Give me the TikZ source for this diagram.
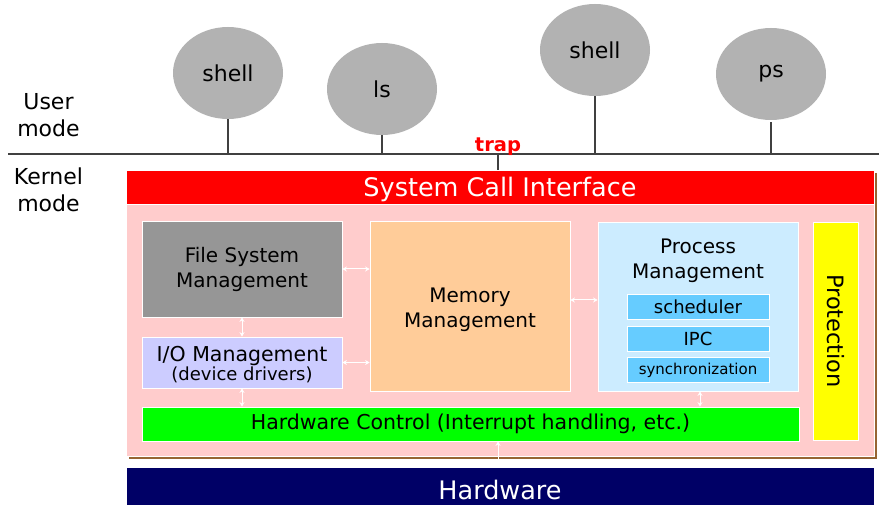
\documentclass[tikz,border=0pt]{standalone}
\usepackage{fontspec}
\setmainfont{DejaVu Sans}
\usetikzlibrary{shapes.geometric,arrows.meta}
\definecolor{bubble}{RGB}{178,178,178}
\definecolor{lineg}{RGB}{64,64,64}
\definecolor{sciRed}{RGB}{255,0,0}
\definecolor{kpink}{RGB}{255,204,204}
\definecolor{kshadow}{RGB}{150,100,50}
\definecolor{hwnavy}{RGB}{0,0,102}
\definecolor{fsgray}{RGB}{150,150,150}
\definecolor{memor}{RGB}{255,204,153}
\definecolor{iolav}{RGB}{204,204,255}
\definecolor{hwgreen}{RGB}{0,255,0}
\definecolor{procblue}{RGB}{204,236,255}
\definecolor{subblue}{RGB}{102,204,255}
\definecolor{protyel}{RGB}{255,255,0}
\tikzset{
  bubblenode/.style={ellipse, fill=bubble, minimum width=110pt, minimum height=92pt, inner sep=0pt, font=\fontsize{22}{26}\selectfont},
  stem/.style={draw=lineg, line width=1.3pt},
  kbox/.style={draw=white, line width=0.8pt, inner sep=0pt, align=center},
  modetext/.style={align=center, font=\fontsize{22}{27}\selectfont},
  midtext/.style={align=center, font=\fontsize{20}{25}\selectfont},
  subtext/.style={font=\fontsize{18}{22}\selectfont},
  dblarrow/.style={draw=white, line width=1pt, {Stealth[length=4.5pt,width=5pt]}-{Stealth[length=4.5pt,width=5pt]}},
  uparrow/.style={draw=white, line width=1pt, -{Stealth[length=4.5pt,width=5pt]}}
}
\begin{document}
\begin{tikzpicture}[x=1pt,y=-1pt]
\useasboundingbox (0,0) rectangle (879,505);
\clip (0,0) rectangle (879,505);
\fill[white] (0,0) rectangle (879,505);

% user processes
\node[bubblenode] (sh1) at (228,73) {shell};
\node[bubblenode] (ls) at (382,89) {ls};
\node[bubblenode] (sh2) at (595,50) {shell};
\node[bubblenode] (ps) at (771,74) {ps};

% mode separator
\coordinate (lineL) at (8,154);
\coordinate (lineR) at (879,154);
\draw[stem] (lineL) -- (lineR);
\draw[stem] (sh1.south) -- (sh1.south |- lineL);
\draw[stem] (ls.south) -- (ls.south |- lineL);
\draw[stem] (sh2.south) -- (sh2.south |- lineL);
\draw[stem] ([yshift=-2pt]ps.south) -- (ps.south |- lineL);

\node[modetext] (user) at (48.5,115) {User\\mode};
\node[modetext] (kern) at (48.5,190) {Kernel\\mode};

% kernel shadow
\fill[kshadow] (129,173) rectangle (877,459);

% system call interface
\node[kbox, fill=sciRed, minimum width=748pt, minimum height=34pt] (sci) at (500,187) {};
\node[anchor=base, text=white, font=\fontsize{25.5}{30}\selectfont] (scitxt) at (500,197) {System Call Interface};

% trap
\coordinate (tp) at (498,154);
\draw[stem] (tp) -- (tp |- sci.north);
\node[anchor=base, text=sciRed, font=\fontsize{19.5}{23}\selectfont\bfseries] (trap) at (498,151.5) {trap};

% kernel area
\node[kbox, fill=kpink, minimum width=748pt, minimum height=252pt] (kern area) at (500,330) {};

% hardware
\node[kbox, fill=hwnavy, minimum width=748pt, minimum height=46pt, text=white, font=\fontsize{25.5}{30}\selectfont] (hw) at (500,490) {Hardware};

% inner boxes
\node[kbox, fill=fsgray, minimum width=200pt, minimum height=96pt, midtext] (fs) at (242,269) {File System\\Management};
\node[kbox, fill=memor, minimum width=200pt, minimum height=170pt] (mem) at (470,306) {};
\node[midtext] (memtxt) at (470,309.5) {Memory\\Management};
\node[kbox, fill=iolav, minimum width=200pt, minimum height=51pt] (io) at (242,362.5) {};
\node[align=center] (iotxt) at (242,365) {{\fontsize{20.5}{20}\selectfont I/O Management}\\[0pt]{\fontsize{18}{20}\selectfont (device drivers)}};
\node[kbox, fill=hwgreen, minimum width=657pt, minimum height=34pt, font=\fontsize{20.5}{25}\selectfont] (hwc) at (470.5,424) {Hardware Control (Interrupt handling, etc.)};
\node[kbox, fill=procblue, minimum width=200pt, minimum height=169pt] (proc) at (698,306.5) {};
\node[midtext] (proctxt) at (698,260.5) {Process\\Management};
\node[kbox, fill=subblue, minimum width=142pt, minimum height=25pt, subtext] (sched) at (698,306.5) {scheduler};
\node[kbox, fill=subblue, minimum width=142pt, minimum height=25pt, subtext] (ipc) at (698,338.5) {IPC};
\node[kbox, fill=subblue, minimum width=142pt, minimum height=25pt, font=\fontsize{15}{18}\selectfont] (sync) at (698,370) {synchronization};
\node[kbox, fill=protyel, minimum width=218pt, minimum height=45pt, rotate=-90, font=\fontsize{22.5}{26}\selectfont] (prot) at (835.5,331) {Protection};

% internal arrows
\draw[dblarrow] (fs.east) -- (mem.west |- fs.east);
\draw[dblarrow] (io.east) -- (mem.west |- io.east);
\draw[dblarrow] (fs.south) -- (io.north);
\draw[dblarrow] (io.south) -- (io.south |- hwc.north);
\draw[dblarrow] ([yshift=6pt]mem.east) -- ([yshift=6pt]mem.east -| proc.west);
\draw[dblarrow] ([xshift=2pt]proc.south) -- ([xshift=2pt]proc.south |- hwc.north);
\coordinate (hwup) at (498,459);
\draw[uparrow] (hwup) -- (hwup |- hwc.south);
\end{tikzpicture}
\end{document}
